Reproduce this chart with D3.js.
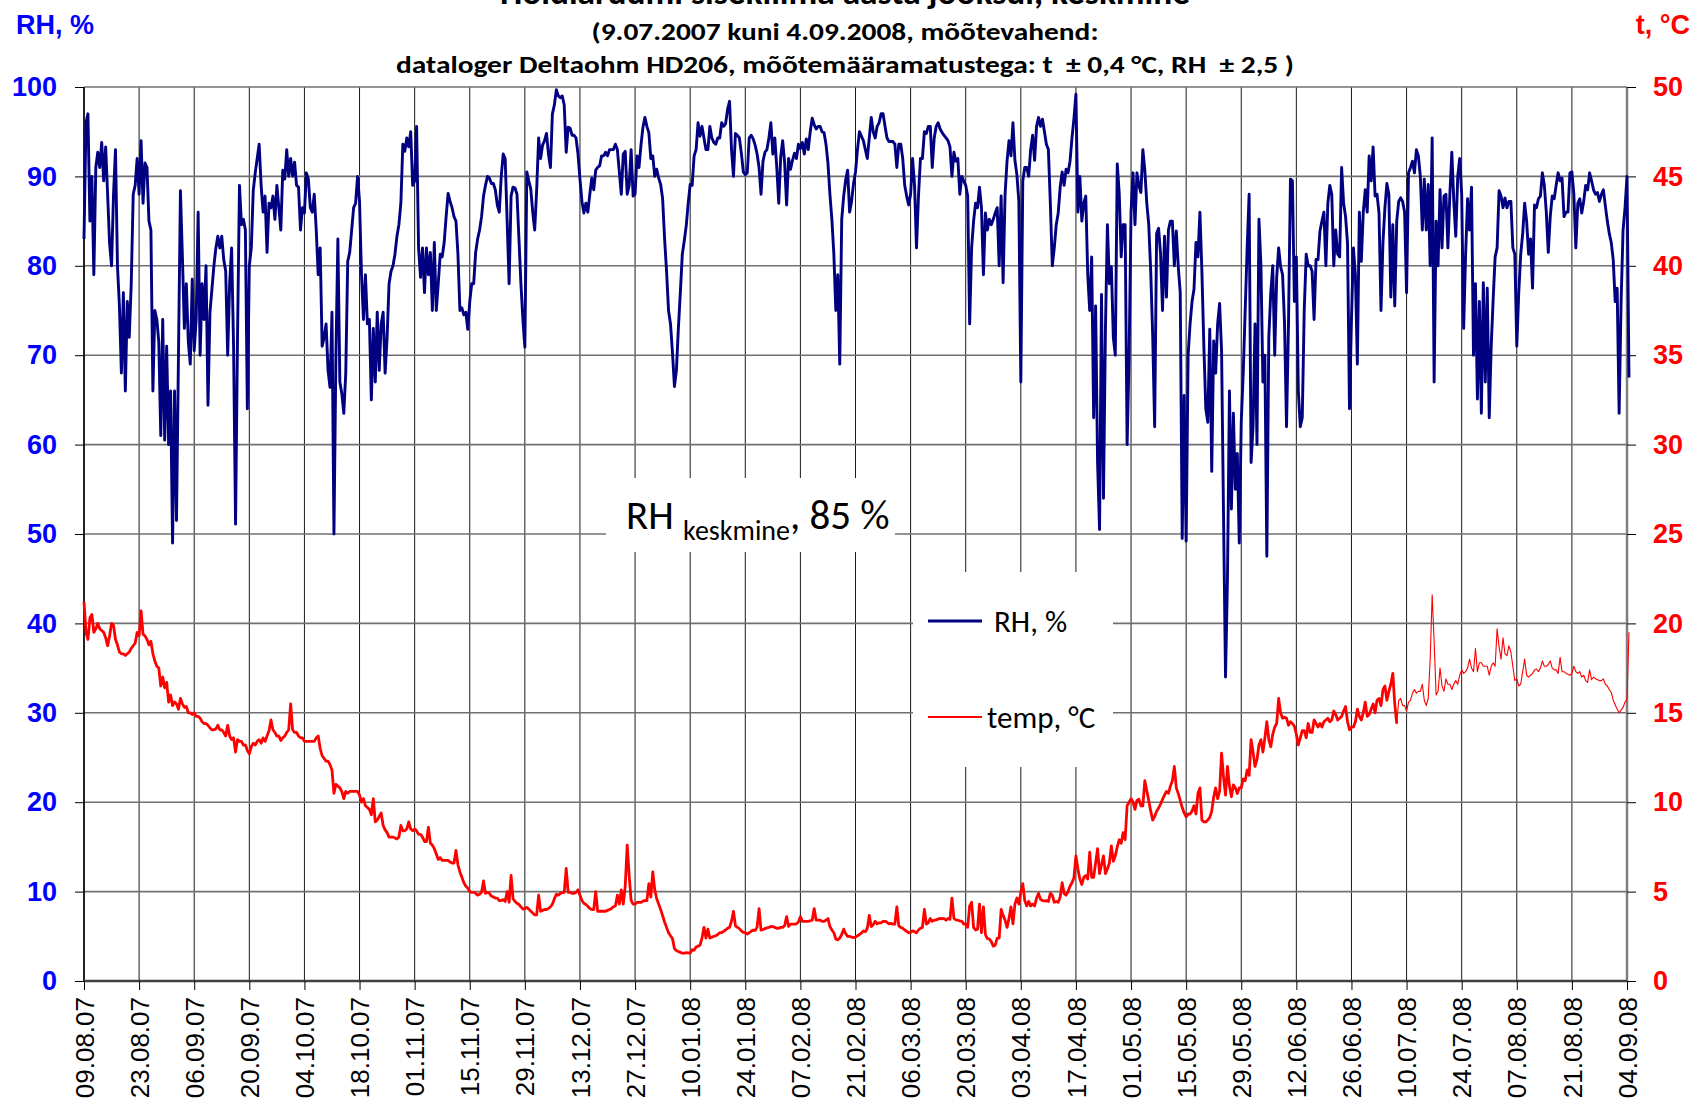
<!DOCTYPE html>
<html>
<head>
<meta charset="utf-8">
<script src="https://cdn.jsdelivr.net/npm/d3@7"></script>
<style>
  body { margin: 0; background: #fff; }
</style>
</head>
<body>
<svg width="1694" height="1100"></svg>
<script>
// logger readings, one value every 12 h starting at the first tick
const startDate = "2007-08-09"
const stepHours = 12

const xTickLabels = ["09.08.07", "23.08.07", "06.09.07", "20.09.07", "04.10.07", "18.10.07",
  "01.11.07", "15.11.07", "29.11.07", "13.12.07", "27.12.07", "10.01.08", "24.01.08",
  "07.02.08", "21.02.08", "06.03.08", "20.03.08", "03.04.08", "17.04.08", "01.05.08",
  "15.05.08", "29.05.08", "12.06.08", "26.06.08", "10.07.08", "24.07.08", "07.08.08",
  "21.08.08", "04.09.08"]
const rhTicks = [0, 10, 20, 30, 40, 50, 60, 70, 80, 90, 100]
const tTicks = [0, 5, 10, 15, 20, 25, 30, 35, 40, 45, 50]

const rhValues = [
  83, 96, 97, 85, 90, 79, 91, 92.7, 91, 93.8,
  89.5, 93.3, 88, 82.5, 80, 88, 93, 80, 75.5, 68,
  77, 66, 76, 72, 78, 88, 89, 92, 88, 94,
  87, 91.5, 91, 85, 84, 66, 75, 74, 71.5, 61,
  74, 60.5, 71, 60, 66, 49, 66, 51.5, 70, 88.4,
  81, 73, 78, 71.5, 69, 78.5, 70.5, 74, 86, 70,
  78, 74, 80, 64.4, 74.8, 77.4, 80, 82, 83.3, 82,
  83.3, 80.7, 79.4, 70, 78, 82, 71, 51.1, 72, 89,
  84.6, 85.2, 84, 64, 80, 82, 88.4, 90.4, 92, 93.6,
  89, 86, 87.8, 81.5, 87, 86.5, 87.8, 85.2, 89, 86.5,
  84, 90.7, 89.7, 93, 90, 92, 90, 91.6, 89, 88.8,
  84, 86.5, 85.9, 90.4, 89.7, 86.5, 86, 88, 84, 79,
  82, 71, 72, 73.5, 68.3, 66.4, 74.8, 50, 70, 83,
  67, 65.7, 63.5, 68, 80.5, 81.5, 84, 86.5, 87, 90,
  87.2, 79, 74, 79, 73.5, 74, 65, 73, 67, 74.8,
  68.3, 73.5, 74.8, 68, 72, 78, 79.4, 80, 81.3, 83.3,
  84.6, 87, 93.6, 92.8, 94.3, 93.3, 95, 89, 89.5, 95.6,
  82, 78.7, 82, 77, 82, 79, 81.5, 75, 82.6, 75,
  78, 81.3, 81, 82.6, 85.5, 88.1, 87.2, 86.5, 85.5, 85,
  81.3, 75, 75.3, 74.5, 74.8, 72.9, 76, 78, 78, 81.5,
  83, 84, 85.5, 87.8, 89, 90, 89.8, 89.2, 89.2, 88.5,
  86.8, 86, 90, 92.5, 92, 85, 78, 87.8, 88.8, 88.7,
  88, 83, 78, 74, 70.9, 90.5, 89.5, 88.6, 86, 84,
  88.5, 94.3, 92, 93.5, 94, 94.8, 92.5, 91, 97, 98,
  99.7, 99, 98.8, 99, 98, 92.7, 95.5, 95.4, 94.6, 94.6,
  94.3, 92.5, 89.7, 87.2, 85.9, 87, 86, 88, 89.8, 88.5,
  90.7, 91, 91.2, 92.3, 92.3, 92.7, 92.3, 93, 93, 93,
  93.6, 93, 90.5, 88, 92.5, 92.8, 88, 89, 93, 87.8,
  88, 92.3, 91, 93.5, 95.5, 96.6, 95.6, 94.9, 92, 92.3,
  90, 90.8, 89.8, 89.1, 87.5, 83, 79.4, 75, 73.5, 70.3,
  66.5, 68.3, 73, 77, 81.3, 82.8, 84.5, 87, 89.1, 89,
  92.3, 93, 96, 94.5, 95.6, 94.3, 93, 93, 95.6, 94.3,
  93.8, 93.6, 94.3, 94.3, 96, 95.6, 95.9, 97.5, 98.4, 93,
  90, 94.8, 94.6, 94.3, 92.6, 90.5, 90.2, 90.4, 94.3, 94.6,
  94.2, 93.5, 92.5, 91, 88, 91.7, 92.7, 93, 94.3, 96,
  92.5, 94.3, 91, 87, 92.2, 94, 91.5, 86.8, 92, 90.8,
  91.8, 92.6, 92, 93.6, 93.1, 93.8, 92.5, 94.2, 93, 95,
  96.5, 95.8, 95.3, 95.6, 95.6, 95, 94.9, 93.6, 91.5, 88,
  85.2, 81.3, 75, 79, 69, 85.2, 87.8, 89.6, 90.7, 86,
  87.2, 89.2, 90.5, 93, 95, 94.5, 94, 93, 92, 94.3,
  96.6, 95, 94.3, 95.6, 96, 97, 97, 95.6, 94.3, 93.9,
  93.9, 93.9, 93.6, 91, 93.6, 93.6, 92, 89, 87.8, 86.8,
  88, 92, 89, 82, 87.8, 92, 92, 95, 94.8, 95.6,
  95.6, 91, 94.3, 95.6, 96, 95.3, 94.9, 94.6, 94.3, 94,
  93.3, 90, 92.7, 91.7, 92, 88, 90, 89.5, 89, 87.8,
  73.5, 82, 85, 87, 86.5, 88.8, 86.5, 79, 85.9, 84,
  85.2, 84.6, 85.2, 85.9, 86.5, 80, 87.8, 78.1, 88, 91.7,
  94, 92.3, 96, 91.8, 90.2, 87.2, 67, 89.5, 91, 91,
  90, 93, 94.6, 91.8, 95.6, 96.6, 95.6, 96.4, 95, 93.6,
  93, 87, 80, 82, 84.6, 85.9, 88.8, 90.5, 89, 90.8,
  90.4, 91.7, 94.3, 96.5, 99.2, 86, 90, 85, 87, 87.8,
  79, 75, 81, 63, 75.5, 58, 50.5, 76.8, 54, 73,
  84.6, 78, 79.9, 72, 70, 91.4, 88.1, 81, 84.6, 84.6,
  60, 69.6, 86, 90.4, 84.6, 90.4, 89, 88.2, 93, 90.7,
  87, 84.6, 79.4, 72.2, 62, 83.6, 84.2, 81.3, 75, 83.3,
  76.5, 84, 85, 85, 80, 83.9, 79.9, 77, 49.5, 65.5,
  49.2, 70, 73.5, 76, 77.4, 82.6, 81, 86, 79.4, 71,
  64, 62.5, 72.9, 57, 71.6, 68, 73.5, 75.8, 70.5, 52,
  34, 45, 66, 52.8, 63.5, 55, 59, 49, 62.5, 68,
  75, 82, 88, 58, 62, 73.5, 60, 85.2, 80, 67,
  70, 47.5, 72, 77, 80, 70, 78.7, 82, 79.9, 79,
  73.5, 62, 73.5, 89.7, 89.5, 76, 81, 66, 62, 63,
  75, 81.3, 80, 80, 79.4, 74, 80.7, 80.7, 83.9, 85,
  86, 80, 87, 89, 88, 80, 84, 81.3, 81, 91,
  87, 85.5, 82.5, 64, 74, 82, 79, 69, 86, 80.5,
  86, 88.5, 86, 92.3, 89.5, 93.3, 87.8, 88, 85.9, 75,
  82.6, 86.5, 89.2, 88, 76.5, 84.6, 75.5, 85, 87.2, 87.6,
  87.2, 86, 77, 90.4, 91, 91.7, 90.4, 93, 92.3, 90,
  84, 89.7, 84, 89.1, 80, 94.3, 67, 85, 80, 88.5,
  82, 87.8, 88, 82, 88, 92.7, 87.2, 83.3, 90, 92,
  88, 73, 81.3, 87.5, 84, 88.8, 70, 78, 65.1, 76,
  63.5, 78.1, 67, 77.5, 63, 71, 76.3, 81, 82, 88.4,
  87.8, 86.5, 87.6, 86.5, 87.2, 87.2, 82, 81.3, 71, 77,
  81.3, 83.6, 87, 85, 81.3, 83, 77.5, 86.8, 86.5, 87.5,
  87.8, 90.4, 89, 86, 81.5, 85.5, 87.8, 87.5, 89, 90.4,
  89.5, 89.8, 85.5, 86, 86, 90.4, 90.5, 88, 82, 87,
  87.5, 85.9, 87.2, 89, 88.5, 90.4, 89.5, 88.5, 88, 88.2,
  87.2, 88, 88.5, 86.7, 85, 83.6, 82.6, 80.7, 76, 77.5,
  63.5, 76, 84, 86.5, 90, 67.5
]

const tempValues = [
  21.2, 19.5, 19.1, 20.3, 20.5, 19.5, 19.7, 20, 19.7, 19.6,
  19.5, 19.2, 18.75, 19.3, 20, 19.9, 19.1, 18.8, 18.4, 18.3,
  18.3, 18.2, 18.3, 18.4, 18.6, 18.75, 18.9, 19.5, 19.3, 20.7,
  19.4, 19.3, 19.1, 18.8, 19, 18.3, 17.9, 17.6, 17.5, 16.5,
  17, 16.4, 16.7, 15.6, 16, 15.4, 15.6, 15.5, 15.2, 15.8,
  15.5, 15.3, 15.35, 15, 15, 14.9, 15, 14.8, 14.8, 14.7,
  14.5, 14.4, 14.4, 14.3, 14.15, 14.05, 14.05, 14.1, 14.3, 14.05,
  14.05, 13.9, 13.7, 14.3, 13.7, 13.5, 13.6, 12.8, 13.5, 13.4,
  13.4, 13.2, 13.2, 12.9, 12.7, 13.1, 13.3, 13.2, 13.4, 13.5,
  13.3, 13.6, 13.4, 13.7, 14, 14.6, 14.05, 13.9, 13.7, 13.7,
  13.45, 13.6, 13.7, 13.9, 14.05, 15.5, 14.05, 13.9, 13.9, 13.7,
  13.6, 13.6, 13.4, 13.4, 13.4, 13.4, 13.4, 13.4, 13.6, 13.7,
  13, 12.6, 12.45, 12.3, 12.3, 12.1, 11.8, 10.5, 11, 10.9,
  10.8, 10.6, 10.2, 10.6, 10.5, 10.6, 10.6, 10.6, 10.6, 10.6,
  10.4, 10, 10.2, 9.8, 9.7, 9.6, 9.3, 10.2, 8.9, 9,
  9.2, 9.4, 8.7, 8.45, 8.3, 8.05, 8.05, 8.05, 8, 7.95,
  8.05, 8.7, 8.4, 8.4, 8.5, 8.9, 8.5, 8.4, 8.5, 8.4,
  8.2, 8.2, 8.05, 7.8, 7.8, 8.6, 7.7, 7.6, 7.4, 7.1,
  6.8, 6.9, 6.75, 6.75, 6.75, 6.75, 6.65, 6.6, 6.6, 7.3,
  6.5, 6.1, 5.8, 5.5, 5.3, 5.2, 5, 4.96, 4.96, 4.9,
  4.8, 4.85, 4.96, 5.6, 4.9, 4.96, 4.9, 4.75, 4.7, 4.64,
  4.64, 4.5, 4.5, 4.55, 4.45, 5, 4.4, 5.9, 4.6, 4.45,
  4.35, 4.28, 4.15, 4.02, 4.05, 4.12, 4.02, 3.9, 3.8, 3.7,
  3.7, 4.8, 3.9, 3.95, 4, 4, 4.05, 4.15, 4.3, 4.6,
  4.85, 4.8, 4.9, 4.94, 4.96, 6.3, 4.96, 4.96, 4.9, 4.9,
  4.96, 5.1, 4.8, 4.5, 4.35, 4.28, 4.18, 4.05, 4, 4,
  5, 3.9, 3.9, 3.9, 3.9, 3.9, 3.95, 4, 4.05, 4.15,
  4.2, 4.8, 4.3, 5.1, 4.3, 5.3, 7.6, 5.9, 4.5, 4.3,
  4.3, 4.4, 4.4, 4.4, 4.47, 4.5, 4.5, 5.45, 4.7, 6.1,
  5.1, 4.6, 4.3, 4, 3.65, 3.3, 3, 2.7, 2.53, 2.37,
  1.82, 1.7, 1.65, 1.6, 1.56, 1.56, 1.58, 1.57, 1.56, 1.75,
  1.72, 1.9, 1.95, 2, 2.4, 3, 2.4, 2.9, 2.4, 2.45,
  2.5, 2.53, 2.6, 2.7, 2.7, 2.78, 2.85, 2.95, 3, 3.34,
  3.9, 3.08, 3, 2.93, 2.8, 2.72, 2.7, 2.63, 2.7, 2.78,
  2.85, 2.83, 3, 4.05, 2.85, 2.88, 2.93, 2.97, 3, 3.05,
  3.04, 3, 2.95, 2.95, 3, 3, 3.1, 3.6, 3.05, 3.18,
  3.18, 3.18, 3.2, 3.3, 3.6, 3.34, 3.34, 3.34, 3.34, 3.37,
  3.4, 4.05, 3.4, 3.4, 3.4, 3.34, 3.34, 3.4, 3.5, 3.05,
  2.85, 2.7, 2.35, 2.3, 2.4, 2.6, 2.9, 2.65, 2.5, 2.5,
  2.45, 2.43, 2.45, 2.53, 2.6, 2.68, 2.8, 2.75, 2.95, 3.67,
  3.05, 3.15, 3.34, 3.2, 3.25, 3.25, 3.34, 3.34, 3.28, 3.2,
  3.22, 3.18, 3.18, 4.15, 3.08, 3, 2.95, 2.85, 2.78, 2.7,
  2.72, 2.8, 2.76, 2.7, 2.85, 2.95, 3, 4, 3.18, 3.25,
  3.5, 3.34, 3.4, 3.42, 3.46, 3.5, 3.47, 3.5, 3.4, 3.5,
  3.45, 4.64, 3.5, 3.42, 3.4, 3.36, 3.34, 3.18, 3.2, 3,
  4.2, 4.4, 3, 2.85, 2.9, 4.3, 2.7, 4.15, 2.6, 2.37,
  2.35, 2.2, 1.95, 2, 2.4, 2.4, 4, 3.67, 3.4, 3,
  3.5, 4.15, 3.2, 4.3, 4.64, 4.3, 4.96, 5.45, 4.5, 4.2,
  4.45, 4.2, 4.3, 4.2, 4.64, 4.9, 4.57, 4.5, 4.48, 4.5,
  4.45, 4.9, 4.8, 4.4, 4.45, 4.4, 4.7, 5.5, 4.9, 4.8,
  5, 5.3, 5.5, 5.78, 7, 6.26, 5.7, 5.4, 5.8, 5.9,
  5.7, 7.2, 5.8, 5.8, 6.6, 7.4, 6, 6.5, 7, 6,
  6.26, 6.6, 7.56, 6.7, 7, 7.5, 7.9, 7.7, 8.3, 7.9,
  9.8, 10, 10.2, 10, 9.6, 10.1, 10.16, 9.8, 9.8, 11.2,
  10.64, 10.1, 9.5, 9, 9.2, 9.5, 9.67, 9.9, 10.16, 10.4,
  10.6, 10.5, 10.9, 11.2, 12, 10.8, 10.48, 10.1, 9.7, 9.4,
  9.18, 9.34, 9.34, 9.5, 9.8, 9.34, 10.5, 10.8, 9, 8.9,
  8.9, 9, 9.15, 9.5, 10.3, 10.8, 10.2, 10.6, 12.75, 11.4,
  10.4, 12, 10.9, 10.3, 10.97, 10.8, 10.48, 10.8, 10.8, 11.3,
  11.2, 11.8, 11.5, 13.5, 12.8, 12, 12.4, 13.2, 13.5, 12.8,
  13.6, 14.5, 13.5, 13.1, 13.8, 14.2, 14.4, 15.8, 15, 14.7,
  14.75, 14.7, 14.3, 14.5, 14.4, 14.25, 13.8, 13.2, 13.6, 14,
  14, 13.6, 14.4, 13.9, 13.9, 14.6, 14.4, 14.2, 14.4, 14.2,
  14.5, 14.6, 14.7, 14.5, 14.6, 15.1, 14.9, 14.6, 14.7, 14.8,
  15.1, 15.35, 14.5, 14.05, 14.2, 14.2, 14.5, 15.2, 14.8, 14.6,
  15, 15.6, 14.8, 14.9, 15.2, 15.5, 15, 15.7, 15.8, 15.4,
  16.3, 16.5, 15.7, 16.2, 16.6, 17.2, 15.5, 14.4, 15.7, 15.8,
  15.4, 15.4, 15.1, 15.6, 15.7, 16.1, 16.3, 16.1, 16.2, 16.2,
  16.6, 15.7, 15.4, 15.8, 18, 21.6, 19, 16, 16.2, 17.5,
  16.5, 16.2, 16.9, 16.6, 16.6, 16.3, 16.6, 16.8, 16.6, 17.1,
  17.4, 17.2, 17.3, 17.5, 18, 17.5, 17.3, 18.6, 17.3, 17.8,
  17.8, 17.6, 17.6, 17.6, 17.1, 17.6, 17.8, 17.6, 19.7, 18.7,
  18, 19.2, 18.3, 18.2, 18.75, 18.4, 17.6, 16.8, 16.9, 16.5,
  16.6, 17.3, 18, 17.1, 17, 17.1, 17.2, 17.4, 17.45, 17.3,
  17.5, 17.9, 17.6, 17.6, 17.7, 17.9, 17.5, 17.4, 17.4, 17.2,
  18.1, 17.3, 17.3, 17.2, 17.15, 17.1, 17.2, 17.6, 17.3, 17.2,
  17.3, 17, 17.1, 16.8, 16.7, 17.4, 16.85, 17, 16.9, 16.85,
  16.8, 16.8, 16.9, 16.6, 16.5, 16.3, 16.15, 15.7, 15.45, 15.2,
  15, 15.15, 15.3, 15.6, 15.75, 19.5
]
// from this reading on the temperature trace is drawn thin
const tempThinFrom = 667

const svg = d3.select("svg")
const width = +svg.attr("width")
const height = +svg.attr("height")
const margin = { top: 87, right: 67, bottom: 119, left: 84 }

const axisFont = "'Liberation Sans', Arial, sans-serif"
const textFont = "Carlito, Calibri, Lato, sans-serif"

svg.append("rect").attr("width", width).attr("height", height).attr("fill", "#fff")

const parseTick = d3.utcParse("%d.%m.%y")
const tickDates = xTickLabels.map(parseTick)
const t0 = d3.utcParse("%Y-%m-%d")(startDate)

const x = d3.scaleUtc()
  .domain([tickDates[0], tickDates[tickDates.length - 1]])
  .range([margin.left, width - margin.right])
const yRH = d3.scaleLinear().domain([0, 100]).range([height - margin.bottom, margin.top])
const yT = d3.scaleLinear().domain([0, 50]).range([height - margin.bottom, margin.top])

const rhData = rhValues.map((v, i) => [d3.utcHour.offset(t0, i * stepHours), v])
const tData = tempValues.map((v, i) => [d3.utcHour.offset(t0, i * stepHours), v])

// grid
const grid = svg.append("g")
grid.selectAll("line.v").data(tickDates).join("line")
  .attr("class", "v")
  .attr("x1", d => x(d)).attr("x2", d => x(d))
  .attr("y1", margin.top).attr("y2", height - margin.bottom)
  .attr("stroke", "#1a1a1a").attr("stroke-width", 1)
grid.selectAll("line.h").data(rhTicks).join("line")
  .attr("class", "h")
  .attr("x1", margin.left).attr("x2", width - margin.right)
  .attr("y1", d => yRH(d)).attr("y2", d => yRH(d))
  .attr("stroke", "#707070").attr("stroke-width", 1.6)

// white boxes of the note and the legend
svg.append("rect").attr("x", 606).attr("y", 478).attr("width", 289).attr("height", 74).attr("fill", "#fff")
svg.append("rect").attr("x", 913).attr("y", 572).attr("width", 200).attr("height", 195).attr("fill", "#fff")

// frame
svg.append("line")
  .attr("x1", margin.left).attr("x2", margin.left)
  .attr("y1", margin.top).attr("y2", height - margin.bottom)
  .attr("stroke", "#000").attr("stroke-width", 1.5)
svg.append("line")
  .attr("x1", width - margin.right).attr("x2", width - margin.right)
  .attr("y1", margin.top).attr("y2", height - margin.bottom)
  .attr("stroke", "#808080").attr("stroke-width", 2.5)
svg.append("line")
  .attr("x1", margin.left).attr("x2", width - margin.right)
  .attr("y1", height - margin.bottom).attr("y2", height - margin.bottom)
  .attr("stroke", "#404040").attr("stroke-width", 2.5)

// axes
const leftAxis = svg.append("g")
  .attr("transform", `translate(${margin.left},0)`)
  .call(d3.axisLeft(yRH).tickValues(rhTicks).tickSize(9).tickPadding(18))
leftAxis.select(".domain").remove()
leftAxis.selectAll("line").attr("stroke", "#000")
leftAxis.selectAll("text")
  .attr("fill", "#0000ff").attr("font-family", axisFont)
  .attr("font-size", 27).attr("font-weight", "bold")

const rightAxis = svg.append("g")
  .attr("transform", `translate(${width - margin.right},0)`)
  .call(d3.axisRight(yT).tickValues(tTicks).tickSize(9).tickPadding(17))
rightAxis.select(".domain").remove()
rightAxis.selectAll("line").attr("stroke", "#000")
rightAxis.selectAll("text")
  .attr("fill", "#ff0000").attr("font-family", axisFont)
  .attr("font-size", 27).attr("font-weight", "bold")

const bottomAxis = svg.append("g")
  .attr("transform", `translate(0,${height - margin.bottom})`)
  .call(d3.axisBottom(x).tickValues(tickDates).tickFormat(d3.utcFormat("%d.%m.%y")).tickSize(9))
bottomAxis.select(".domain").remove()
bottomAxis.selectAll("line").attr("stroke", "#000")
bottomAxis.selectAll("text")
  .attr("transform", "rotate(-90)")
  .attr("text-anchor", "end")
  .attr("x", -16).attr("y", 0).attr("dy", "0.35em")
  .attr("fill", "#000").attr("font-family", axisFont).attr("font-size", 26)

// series
const rhLine = d3.line().x(d => x(d[0])).y(d => yRH(d[1]))
const tLine = d3.line().x(d => x(d[0])).y(d => yT(d[1]))

svg.append("path").datum(rhData)
  .attr("d", rhLine).attr("fill", "none")
  .attr("stroke", "#000080").attr("stroke-width", 2.9).attr("stroke-linejoin", "round")
svg.append("path").datum(tData.slice(0, tempThinFrom + 1))
  .attr("d", tLine).attr("fill", "none")
  .attr("stroke", "#ff0000").attr("stroke-width", 2.8).attr("stroke-linejoin", "round")
svg.append("path").datum(tData.slice(tempThinFrom))
  .attr("d", tLine).attr("fill", "none")
  .attr("stroke", "#ff0000").attr("stroke-width", 1.1).attr("stroke-linejoin", "round")

// axis titles
svg.append("text").text("RH, %")
  .attr("x", 16).attr("y", 34)
  .attr("fill", "#0000ff").attr("font-family", axisFont).attr("font-size", 27).attr("font-weight", "bold")
svg.append("text").text("t, °C")
  .attr("x", 1690).attr("y", 34).attr("text-anchor", "end")
  .attr("fill", "#ff0000").attr("font-family", axisFont).attr("font-size", 27).attr("font-weight", "bold")

// titles (first line is cut by the top edge, as in the original)
svg.append("text").text("Hoidlaruumi sisekliima aasta jooksul, keskmine")
  .attr("x", 845).attr("y", 4).attr("text-anchor", "middle")
  .attr("textLength", 690).attr("lengthAdjust", "spacingAndGlyphs")
  .attr("font-family", textFont).attr("font-size", 34).attr("font-weight", "bold").attr("fill", "#000")
svg.append("text").text("(9.07.2007 kuni 4.09.2008, mõõtevahend:")
  .attr("x", 845).attr("y", 40).attr("text-anchor", "middle")
  .attr("textLength", 507).attr("lengthAdjust", "spacingAndGlyphs")
  .attr("font-family", textFont).attr("font-size", 24).attr("font-weight", "bold").attr("fill", "#000")
svg.append("text").text("dataloger Deltaohm HD206, mõõtemääramatustega: t  ± 0,4 °C, RH  ± 2,5 )")
  .style("white-space", "pre")
  .attr("x", 845).attr("y", 73).attr("text-anchor", "middle")
  .attr("textLength", 898).attr("lengthAdjust", "spacingAndGlyphs")
  .attr("font-family", textFont).attr("font-size", 24).attr("font-weight", "bold").attr("fill", "#000")

// mean RH note
const note = svg.append("text")
  .attr("x", 626).attr("y", 529)
  .attr("font-family", textFont).attr("fill", "#000")
note.append("tspan").text("RH ").attr("font-size", 41)
note.append("tspan").text("keskmine").attr("font-size", 28).attr("dy", 11)
note.append("tspan").text(", 85 %").attr("font-size", 41).attr("dy", -11)

// legend
const legend = [
  { label: "RH, %", color: "#000080", w: 3, y: 621, tx: 994 },
  { label: "temp, °C", color: "#ff0000", w: 2, y: 717, tx: 987 }
]
const lg = svg.append("g")
lg.selectAll("line").data(legend).join("line")
  .attr("x1", 928).attr("x2", 982)
  .attr("y1", d => d.y).attr("y2", d => d.y)
  .attr("stroke", d => d.color).attr("stroke-width", d => d.w)
lg.selectAll("text").data(legend).join("text")
  .text(d => d.label)
  .attr("x", d => d.tx).attr("y", d => d.y + 11)
  .attr("font-family", textFont).attr("font-size", 31).attr("fill", "#000")
</script>
</body>
</html>
